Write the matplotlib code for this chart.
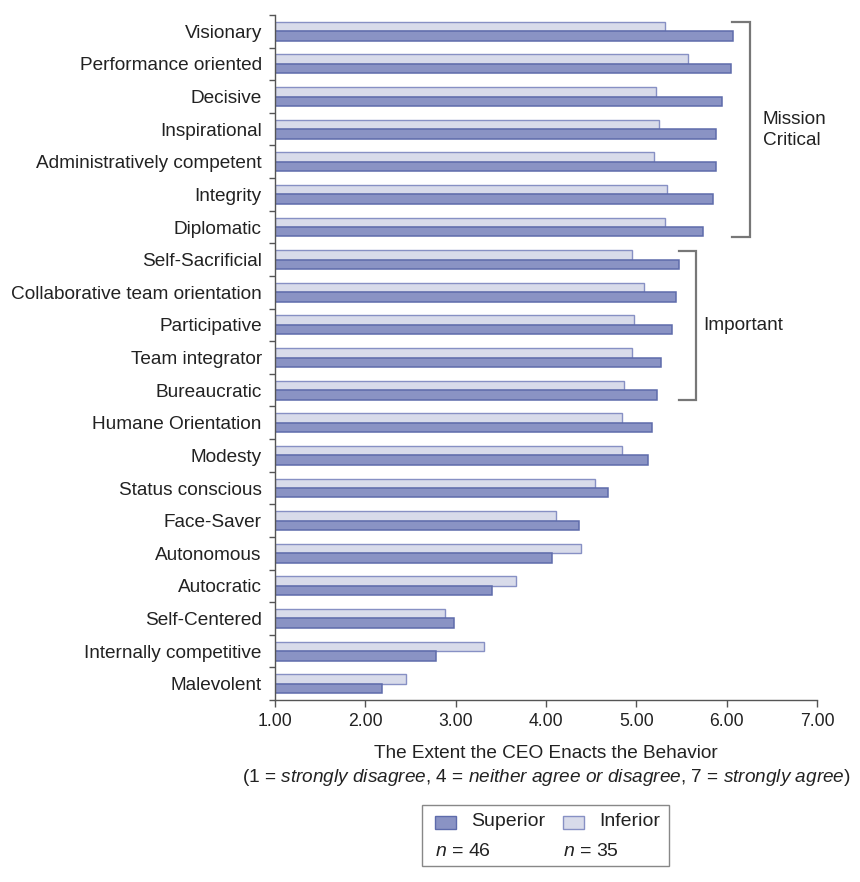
import matplotlib.pyplot as plt
import numpy as np
from matplotlib.patches import Rectangle

plt.rcParams['font.family'] = ['Liberation Sans', 'DejaVu Sans']
plt.rcParams['mathtext.fontset'] = 'custom'
plt.rcParams['mathtext.rm'] = 'Liberation Sans'
plt.rcParams['mathtext.it'] = 'Liberation Sans:italic'

# Behaviours, top to bottom.
behaviors = ["Visionary", "Performance oriented", "Decisive", "Inspirational",
             "Administratively competent", "Integrity", "Diplomatic",
             "Self-Sacrificial", "Collaborative team orientation", "Participative",
             "Team integrator", "Bureaucratic", "Humane Orientation", "Modesty",
             "Status conscious", "Face-Saver", "Autonomous", "Autocratic",
             "Self-Centered", "Internally competitive", "Malevolent"]
superior = [6.07, 6.05, 5.95, 5.88, 5.88, 5.85, 5.74,
            5.47, 5.44, 5.40, 5.27, 5.23, 5.17, 5.13,
            4.69, 4.37, 4.07, 3.40, 2.98, 2.78, 2.18]
inferior = [5.32, 5.57, 5.22, 5.25, 5.20, 5.34, 5.32,
            4.95, 5.08, 4.97, 4.95, 4.86, 4.84, 4.84,
            4.54, 4.11, 4.39, 3.67, 2.88, 3.31, 2.45]
x_ticks = [1, 2, 3, 4, 5, 6, 7]
n_superior = 46
n_inferior = 35

dark_fill, dark_edge = '#8a93c4', '#5e6bab'
light_fill, light_edge = '#d8dbea', '#8790c4'
text_col = '#222222'
spine_col = '#555555'

fig = plt.figure(figsize=(8.6, 8.82), dpi=100)
ax = fig.add_axes([0.3198, 0.2063, 0.6302, 0.7767])

y = np.arange(len(behaviors))
h = 0.29
ax.barh(y - h / 2, [v - 1 for v in inferior], height=h, left=1,
        color=light_fill, edgecolor=light_edge, linewidth=1)
ax.barh(y + h / 2, [v - 1 for v in superior], height=h, left=1,
        color=dark_fill, edgecolor=dark_edge, linewidth=1.1)

ax.set_xlim(1, 7)
ax.set_ylim(len(behaviors) - 0.5, -0.5)
ax.set_xticks(x_ticks)
ax.set_xticklabels([f"{t:.2f}" for t in x_ticks])
ax.set_yticks(y)
ax.set_yticklabels(behaviors)
ax.set_yticks(np.arange(-0.5, len(behaviors)), minor=True)

for s in ['top', 'right']:
    ax.spines[s].set_visible(False)
for s in ['left', 'bottom']:
    ax.spines[s].set_color(spine_col)
    ax.spines[s].set_linewidth(1)

ax.tick_params(axis='y', which='major', length=0, pad=9.5, labelsize=13.7, labelcolor=text_col)
ax.tick_params(axis='y', which='minor', length=4, color=spine_col, width=1)
ax.tick_params(axis='x', length=5, color=spine_col, width=1, labelsize=12.7,
               labelcolor=text_col, pad=4)

ax.set_xlabel("The Extent the CEO Enacts the Behavior\n"
              r"(1 = $\it{strongly\ disagree}$, 4 = $\it{neither\ agree\ or\ disagree}$, "
              r"7 = $\it{strongly\ agree}$)",
              fontsize=13.7, color=text_col, labelpad=11, linespacing=1.35)

# Group brackets.
def bracket(x0, x1, top, bottom, label, tx):
    ax.plot([x0, x1, x1, x0], [top, top, bottom, bottom], color='#777777',
            linewidth=1.6, clip_on=False, solid_joinstyle='miter')
    ax.text(tx, (top + bottom) / 2, label, ha='left', va='center',
            fontsize=13.7, color=text_col, linespacing=1.3, clip_on=False)

bracket(6.06, 6.26, -0.27, 6.31, "Mission\nCritical", 6.40)
bracket(5.47, 5.66, 6.73, 11.31, "Important", 5.74)

# Legend box.
W, H = 860, 882
def fx(px):
    return px / W

def fy(py):
    return 1 - py / H

fig.patches.append(Rectangle((fx(422), fy(866)), fx(669) - fx(422), fy(805) - fy(866),
                             transform=fig.transFigure, facecolor='white',
                             edgecolor='#888888', linewidth=1))
fig.patches.append(Rectangle((fx(435), fy(829)), fx(21), 13 / H, transform=fig.transFigure,
                             facecolor=dark_fill, edgecolor=dark_edge, linewidth=1))
fig.patches.append(Rectangle((fx(563), fy(829)), fx(21), 13 / H, transform=fig.transFigure,
                             facecolor=light_fill, edgecolor=light_edge, linewidth=1))
fig.text(fx(471), fy(822), "Superior", fontsize=14, color=text_col, va='center')
fig.text(fx(599), fy(822), "Inferior", fontsize=14, color=text_col, va='center')
fig.text(fx(435), fy(851), f"$n$ = {n_superior}", fontsize=14, color=text_col, va='center')
fig.text(fx(563), fy(851), f"$n$ = {n_inferior}", fontsize=14, color=text_col, va='center')

fig.savefig("out.png", dpi=100)
